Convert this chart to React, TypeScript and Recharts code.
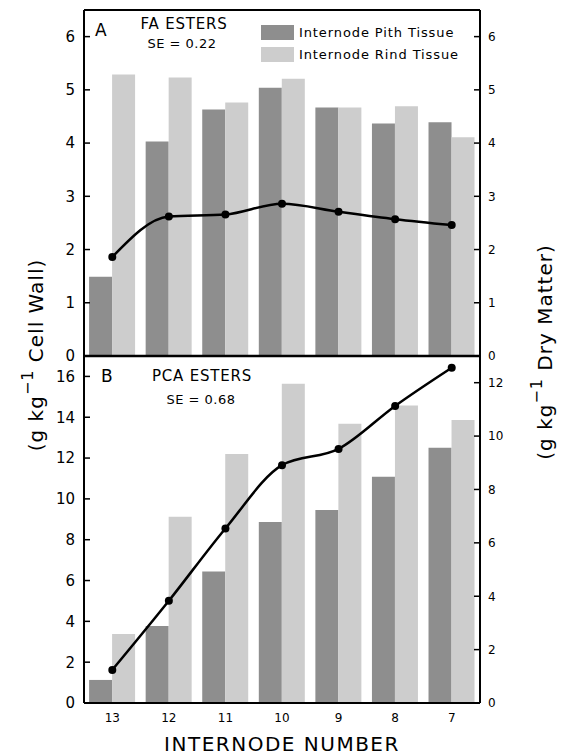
import React from "react";
import {
  ComposedChart,
  Bar,
  Line,
  XAxis,
  YAxis,
  ReferenceLine,
} from "recharts";

const FONT = "DejaVu Sans";

const internodes = ["13", "12", "11", "10", "9", "8", "7"];

// panel A, FA esters
const faPith = [1.49, 4.03, 4.63, 5.04, 4.67, 4.37, 4.39];
const faRind = [5.29, 5.23, 4.76, 5.21, 4.67, 4.69, 4.11];
const faWhole = [1.86, 2.62, 2.66, 2.86, 2.71, 2.57, 2.46];

// panel B, PCA esters (whole line read on the dry matter axis)
const pcaPith = [1.13, 3.77, 6.44, 8.87, 9.46, 11.08, 12.5];
const pcaRind = [3.38, 9.12, 12.2, 15.64, 13.68, 14.57, 13.87];
const pcaWhole = [1.24, 3.83, 6.54, 8.91, 9.52, 11.13, 12.56];

const faTicks = [0, 1, 2, 3, 4, 5, 6];
const pcaLeftTicks = [0, 2, 4, 6, 8, 10, 12, 14, 16];
const pcaRightTicks = [0, 2, 4, 6, 8, 10, 12];

const faData = internodes.map((name, i) => ({
  name,
  pith: faPith[i],
  rind: faRind[i],
  whole: faWhole[i],
}));

const pcaData = internodes.map((name, i) => ({
  name,
  pith: pcaPith[i],
  rind: pcaRind[i],
  whole: pcaWhole[i],
}));

const PITH = "#8e8e8e";
const RIND = "#cdcdcd";

const legendItems = [
  { label: "Internode Pith Tissue", color: PITH },
  { label: "Internode Rind Tissue", color: RIND },
];

// ticks point into the plot, labels stay outside
const makeTick =
  (side: "left" | "right", gap: number, fontSize: number) => (props: any) => {
    const { x, y, payload } = props;
    const ax = side === "left" ? x + gap : x - gap;
    const inner = side === "left" ? ax + 6 : ax - 6;
    return (
      <g>
        <line x1={ax} x2={inner} y1={y} y2={y} stroke="#000" strokeWidth={1.5} />
        <text
          x={x}
          y={y}
          dy="0.36em"
          textAnchor={side === "left" ? "end" : "start"}
          fontSize={fontSize}
          fontFamily={FONT}
          fill="#000"
        >
          {payload.value}
        </text>
      </g>
    );
  };

const axisLine = { stroke: "#000", strokeWidth: 2 };

const App = () => {
  return (
    <div
      style={{
        position: "absolute",
        left: 0,
        top: 0,
        width: 566,
        height: 755,
        background: "#fff",
      }}
    >
      <div style={{ position: "absolute", left: 0, top: 0 }}>
        <ComposedChart
          width={566}
          height={374}
          data={faData}
          margin={{ top: 10, right: 46, left: 44, bottom: 18 }}
          barCategoryGap="9%"
          barGap={0}
        >
          <XAxis dataKey="name" hide />
          <YAxis
            yAxisId="left"
            domain={[0, 6.5]}
            ticks={faTicks}
            interval={0}
            width={40}
            axisLine={axisLine}
            tickLine={false}
            tickSize={0}
            tickMargin={9}
            tick={makeTick("left", 9, 15)}
          />
          <YAxis
            yAxisId="right"
            orientation="right"
            domain={[0, 6.5]}
            ticks={faTicks}
            interval={0}
            width={40}
            axisLine={axisLine}
            tickLine={false}
            tickSize={0}
            tickMargin={8}
            tick={makeTick("right", 8, 12)}
          />
          <Bar yAxisId="left" dataKey="pith" fill={PITH} isAnimationActive={false} />
          <Bar yAxisId="left" dataKey="rind" fill={RIND} isAnimationActive={false} />
          <Line
            yAxisId="right"
            dataKey="whole"
            type="monotone"
            stroke="#000"
            strokeWidth={2.5}
            dot={{ r: 4, fill: "#000", stroke: "#000", strokeWidth: 0 }}
            isAnimationActive={false}
          />
          <ReferenceLine yAxisId="left" y={6.5} stroke="#000" strokeWidth={2} />
        </ComposedChart>
      </div>

      <div style={{ position: "absolute", left: 0, top: 346 }}>
        <ComposedChart
          width={566}
          height={409}
          data={pcaData}
          margin={{ top: 10, right: 46, left: 44, bottom: 2 }}
          barCategoryGap="9%"
          barGap={0}
        >
          <XAxis
            dataKey="name"
            height={50}
            axisLine={axisLine}
            tickLine={false}
            tickSize={0}
            tickMargin={10}
            tick={{ fontSize: 12, fontFamily: FONT, fill: "#000" }}
          />
          <YAxis
            yAxisId="left"
            domain={[0, 17]}
            ticks={pcaLeftTicks}
            interval={0}
            width={40}
            axisLine={axisLine}
            tickLine={false}
            tickSize={0}
            tickMargin={9}
            tick={makeTick("left", 9, 15)}
          />
          <YAxis
            yAxisId="right"
            orientation="right"
            domain={[0, 13]}
            ticks={pcaRightTicks}
            interval={0}
            width={40}
            axisLine={axisLine}
            tickLine={false}
            tickSize={0}
            tickMargin={8}
            tick={makeTick("right", 8, 12)}
          />
          <Bar yAxisId="left" dataKey="pith" fill={PITH} isAnimationActive={false} />
          <Bar yAxisId="left" dataKey="rind" fill={RIND} isAnimationActive={false} />
          <Line
            yAxisId="right"
            dataKey="whole"
            type="monotone"
            stroke="#000"
            strokeWidth={2.5}
            dot={{ r: 4, fill: "#000", stroke: "#000", strokeWidth: 0 }}
            isAnimationActive={false}
          />
          <ReferenceLine yAxisId="left" y={17} stroke="#000" strokeWidth={2.5} />
        </ComposedChart>
      </div>

      <div style={{ position: "absolute", left: 261, top: 21 }}>
        {legendItems.map((item) => (
          <div
            key={item.label}
            style={{ display: "flex", alignItems: "center", height: 22 }}
          >
            <span
              style={{
                display: "inline-block",
                width: 33,
                height: 15,
                background: item.color,
                marginRight: 5,
              }}
            />
            <span
              style={{
                fontFamily: FONT,
                fontSize: 13,
                letterSpacing: 0.9,
                color: "#000",
              }}
            >
              {item.label}
            </span>
          </div>
        ))}
      </div>

      <svg
        width={566}
        height={755}
        style={{ position: "absolute", left: 0, top: 0, pointerEvents: "none" }}
        fontFamily={FONT}
        fill="#000"
      >
        <text x={95} y={36} fontSize={17}>A</text>
        <text x={184} y={29} fontSize={15} textAnchor="middle" letterSpacing={0.8}>
          FA ESTERS
        </text>
        <text x={182} y={48} fontSize={13} textAnchor="middle" letterSpacing={0.5}>
          SE = 0.22
        </text>

        <text x={101} y={382} fontSize={17}>B</text>
        <text x={202} y={381} fontSize={15} textAnchor="middle" letterSpacing={0.8}>
          PCA ESTERS
        </text>
        <text x={201} y={404} fontSize={13} textAnchor="middle" letterSpacing={0.5}>
          SE = 0.68
        </text>

        <text x={282} y={751} fontSize={20} textAnchor="middle" letterSpacing={1.5}>
          INTERNODE NUMBER
        </text>

        <text
          transform="translate(43 355) rotate(-90)"
          fontSize={20}
          textAnchor="middle"
          letterSpacing={1}
        >
          (g kg<tspan dy={-10} fontSize={16}>−1</tspan>
          <tspan dy={10}>{"  Cell Wall)"}</tspan>
        </text>
        <text
          transform="translate(552 352) rotate(-90)"
          fontSize={20}
          textAnchor="middle"
          letterSpacing={1}
        >
          (g kg<tspan dy={-10} fontSize={16}>−1</tspan>
          <tspan dy={10}>{"  Dry Matter)"}</tspan>
        </text>
      </svg>
    </div>
  );
};

export default App;
